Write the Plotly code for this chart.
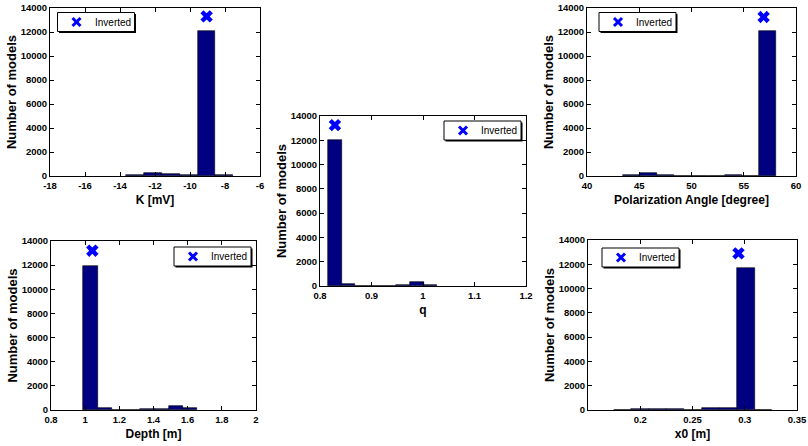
import plotly.graph_objects as go
import numpy as np

W, H = 808, 446

# ---------------- data ----------------
k_centers = [-13.14, -12.12, -11.10, -10.08, -9.06, -8.04]
k_counts = [60, 280, 200, 100, 12100, 50]
k_inverted = (-9.05, 13300)

q_centers = [0.8288, 0.8553, 0.8818, 0.9083, 0.9348, 0.9613, 0.9878, 1.0143]
q_counts = [12000, 180, 0, 0, 40, 50, 320, 70]
q_inverted = (0.829, 13250)

pol_centers = [44.22, 45.85, 47.49, 49.12, 50.76, 52.39, 54.03, 55.66, 57.30]
pol_counts = [100, 250, 90, 30, 0, 0, 90, 30, 12050]
pol_inverted = (56.9, 13250)

depth_centers = [1.031, 1.114, 1.198, 1.281, 1.365, 1.448, 1.532, 1.615]
depth_counts = [11950, 190, 0, 0, 60, 60, 320, 130]
depth_inverted = (1.042, 13200)

x0_centers = [0.1829, 0.1998, 0.2166, 0.2335, 0.2504, 0.2672, 0.2841, 0.3009, 0.3178]
x0_counts = [30, 100, 100, 100, 0, 170, 170, 11700, 30]
x0_inverted = (0.294, 12900)

y_ticks = [0, 2000, 4000, 6000, 8000, 10000, 12000, 14000]
legend_label = "Inverted"
y_title = "Number of models"

# ---------------- layout helpers ----------------
FONT = "Liberation Sans, Arial, sans-serif"
BAR_COLOR = "#000080"
MARK_COLOR = "#0000FF"


def px_dom_x(a, b):
    return [a / W, b / W]


def px_dom_y(top, bottom):
    return [1 - bottom / H, 1 - top / H]


def fx(px):
    return px / W


def fy(py):
    return 1 - py / H


panels = [
    dict(c=k_centers, n=k_counts, inv=k_inverted, xd=(50, 260), yd=(8, 176),
         xr=[-18, -6], xt=[-18, -16, -14, -12, -10, -8, -6], xtitle="K [mV]",
         leg=(57.5, 12.5)),
    dict(c=q_centers, n=q_counts, inv=q_inverted, xd=(320, 526), yd=(116, 286),
         xr=[0.8, 1.2], xt=[0.8, 0.9, 1.0, 1.1, 1.2], xtitle="q",
         leg=(444, 121)),
    dict(c=pol_centers, n=pol_counts, inv=pol_inverted, xd=(587, 796), yd=(8, 176),
         xr=[40, 60], xt=[40, 45, 50, 55, 60], xtitle="Polarization Angle [degree]",
         leg=(599, 12.5)),
    dict(c=depth_centers, n=depth_counts, inv=depth_inverted, xd=(51, 256), yd=(241, 410),
         xr=[0.8, 2.0], xt=[0.8, 1.0, 1.2, 1.4, 1.6, 1.8, 2.0], xtitle="Depth [m]",
         leg=(174, 247)),
    dict(c=x0_centers, n=x0_counts, inv=x0_inverted, xd=(588, 797), yd=(240, 410),
         xr=[0.15, 0.35], xt=[0.2, 0.25, 0.3, 0.35], xtitle="x0 [m]",
         leg=(602, 248)),
]

fig = go.Figure()
layout = dict(
    width=W, height=H,
    margin=dict(l=0, r=0, t=0, b=0, autoexpand=False),
    paper_bgcolor="white", plot_bgcolor="white",
    font=dict(family=FONT, color="black"),
    showlegend=False,
    bargap=0,
)

shapes = []
annotations = []
LEG_W, LEG_H = 77, 19

for i, p in enumerate(panels, start=1):
    xa = "x" if i == 1 else f"x{i}"
    ya = "y" if i == 1 else f"y{i}"
    width = float(np.diff(p["c"]).mean())
    fig.add_trace(go.Bar(
        x=p["c"], y=p["n"], width=width,
        marker=dict(color=BAR_COLOR, line=dict(color="black", width=0.6)),
        xaxis=xa, yaxis=ya, showlegend=False,
    ))
    fig.add_trace(go.Scatter(
        x=[p["inv"][0]], y=[p["inv"][1]], mode="markers", name=legend_label,
        marker=dict(symbol="x", size=11, color=MARK_COLOR, line=dict(width=0)),
        xaxis=xa, yaxis=ya, showlegend=False,
    ))
    axkey_x = "xaxis" if i == 1 else f"xaxis{i}"
    axkey_y = "yaxis" if i == 1 else f"yaxis{i}"
    layout[axkey_x] = dict(
        domain=px_dom_x(*p["xd"]), anchor=ya, range=p["xr"], automargin=False,
        tickvals=p["xt"], ticktext=[f"{v:g}" for v in p["xt"]],
        ticks="inside", ticklen=4, tickcolor="black", tickwidth=1,
        showline=True, linecolor="black", linewidth=1, mirror="ticks",
        showgrid=False, zeroline=False, ticklabelstandoff=1,
        tickfont=dict(size=9.5, family=FONT, weight="bold"),
        title=dict(text=p["xtitle"], font=dict(size=12, family=FONT, weight="bold"), standoff=5),
    )
    layout[axkey_y] = dict(
        domain=px_dom_y(*p["yd"]), anchor=xa, range=[0, 14000], automargin=False,
        tickvals=y_ticks, ticktext=[str(v) for v in y_ticks],
        ticks="inside", ticklen=4, tickcolor="black", tickwidth=1,
        showline=True, linecolor="black", linewidth=1, mirror="ticks",
        showgrid=False, zeroline=False,
        tickfont=dict(size=9.5, family=FONT, weight="bold"),
        title=dict(text=y_title, font=dict(size=13, family=FONT, weight="bold"), standoff=1),
    )
    # legend box (MATLAB style, with shadow)
    lx, ly = p["leg"]
    shapes.append(dict(
        type="rect", xref="paper", yref="paper",
        x0=fx(lx + 1.5), x1=fx(lx + LEG_W + 1.5),
        y0=fy(ly + LEG_H + 1.5), y1=fy(ly + 1.5),
        fillcolor="black", line=dict(width=0), layer="above",
    ))
    shapes.append(dict(
        type="rect", xref="paper", yref="paper",
        x0=fx(lx), x1=fx(lx + LEG_W), y0=fy(ly + LEG_H), y1=fy(ly),
        fillcolor="white", line=dict(color="black", width=1), layer="above",
    ))
    cx, cy = lx + 19, ly + LEG_H / 2
    for sx in (-1, 1):
        shapes.append(dict(
            type="line", xref="paper", yref="paper",
            x0=fx(cx - 4 * sx), x1=fx(cx + 4 * sx), y0=fy(cy - 4), y1=fy(cy + 4),
            line=dict(color=MARK_COLOR, width=3), layer="above",
        ))
    annotations.append(dict(
        text=legend_label, xref="paper", yref="paper",
        x=fx(lx + 35), y=fy(cy), xanchor="left", yanchor="middle",
        showarrow=False, font=dict(size=10, family=FONT, color="black"),
    ))

layout["shapes"] = shapes
layout["annotations"] = annotations
fig.update_layout(**layout)
fig.write_html("out.html")
